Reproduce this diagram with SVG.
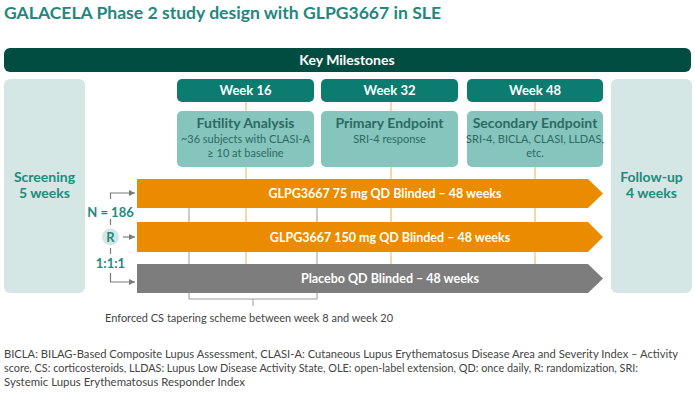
<svg xmlns="http://www.w3.org/2000/svg" width="695" height="401" viewBox="0 0 695 401">
<style>
text{font-family:Lato,"Open Sans","Liberation Sans",sans-serif}
.title{font-size:17.5px;font-weight:bold;fill:#23877d}
.hdr{font-size:14px;font-weight:bold;fill:#fff}
.wk{font-size:13px;font-weight:bold;fill:#fff}
.ct{font-size:14px;font-weight:bold;fill:#2c6a62}
.cs{font-size:11px;fill:#2c6a62}
.side{font-size:14px;font-weight:bold;fill:#1f8a7e}
.bar{font-size:12.5px;font-weight:bold;fill:#fff}
.rnd{font-size:13px;font-weight:bold;fill:#1f8a7e}
.note{font-size:11.5px;fill:#444}
.pale{fill:#d4e7e4}
.week{fill:#0d7c70}
.cbox{fill:#85c5bd}
.orange{fill:#eb8b00}
.grey{fill:#7d7d7d}
.ol{stroke:#e6b060;stroke-width:1;fill:none}
.gl{stroke:#9a9a9a;stroke-width:1;fill:none}
.al{stroke:#7a7a7a;stroke-width:1.2;fill:none}
</style>
<defs>
<marker id="ah" viewBox="0 0 6 6" refX="6" refY="3" markerWidth="6" markerHeight="6" markerUnits="userSpaceOnUse" orient="auto">
<path d="M0,0 L6,3 L0,6 z" fill="#7a7a7a"/>
</marker>
</defs>
<text class="title" x="4" y="19" textLength="437" lengthAdjust="spacingAndGlyphs">GALACELA Phase 2 study design with GLPG3667 in SLE</text>

<g id="key-milestones">
<rect x="4" y="48" width="687" height="24" rx="6" fill="#024d41"/>
<text class="hdr" x="347" y="65" text-anchor="middle">Key Milestones</text>
</g>

<g id="connectors">
<path class="ol" d="M246,102V111M246,167V179M246,208V222M246,252V264"/>
<path class="ol" d="M391,102V111M391,167V179M391,208V222M391,252V264"/>
<path class="ol" d="M535,102V111M535,167V179M535,208V222M535,252V264"/>
<path class="gl" d="M189,208V222M189,252V264M317,208V222M317,252V264"/>
<path class="gl" d="M189,293V299H317V293M253,299V306"/>
<path class="al" d="M110.5,199V193H135" marker-end="url(#ah)"/>
<path class="al" d="M110.5,219V225M110.5,248V254"/>
<path class="al" d="M123,237H135" marker-end="url(#ah)"/>
<path class="al" d="M110.5,273V282H135" marker-end="url(#ah)"/>
</g>

<g id="screening">
<rect class="pale" x="4" y="79" width="81" height="214" rx="6"/>
<text class="side" x="44.5" y="182" text-anchor="middle">Screening</text>
<text class="side" x="44.5" y="198" text-anchor="middle">5 weeks</text>
</g>

<g id="follow-up">
<rect class="pale" x="611" y="79" width="81" height="214" rx="6"/>
<text class="side" x="651.5" y="182" text-anchor="middle">Follow-up</text>
<text class="side" x="651.5" y="198" text-anchor="middle">4 weeks</text>
</g>

<g id="week16">
<rect class="week" x="177" y="79" width="137" height="23" rx="5"/>
<text class="wk" x="245.5" y="95" text-anchor="middle">Week 16</text>
</g>
<g id="week32">
<rect class="week" x="321" y="79" width="137" height="23" rx="5"/>
<text class="wk" x="389.5" y="95" text-anchor="middle">Week 32</text>
</g>
<g id="week48">
<rect class="week" x="467" y="79" width="136" height="23" rx="5"/>
<text class="wk" x="535" y="95" text-anchor="middle">Week 48</text>
</g>

<g id="futility">
<rect class="cbox" x="177" y="111" width="137" height="56" rx="5"/>
<text class="ct" x="245.5" y="128" text-anchor="middle">Futility Analysis</text>
<text class="cs" x="245.5" y="143" text-anchor="middle">~36 subjects with CLASI-A</text>
<text class="cs" x="245.5" y="157" text-anchor="middle">≥ 10 at baseline</text>
</g>
<g id="primary">
<rect class="cbox" x="321" y="111" width="137" height="56" rx="5"/>
<text class="ct" x="389.5" y="128" text-anchor="middle">Primary Endpoint</text>
<text class="cs" x="389.5" y="143" text-anchor="middle">SRI-4 response</text>
</g>
<g id="secondary">
<rect class="cbox" x="467" y="111" width="136" height="56" rx="5"/>
<text class="ct" x="535" y="128" text-anchor="middle">Secondary Endpoint</text>
<text class="cs" x="535" y="143" text-anchor="middle">SRI-4, BICLA, CLASI, LLDAS,</text>
<text class="cs" x="535" y="157" text-anchor="middle">etc.</text>
</g>

<g id="arm-75mg">
<path class="orange" d="M137,179H588L603,193.5L588,208H137z"/>
<text class="bar" x="385" y="198" text-anchor="middle">GLPG3667 75 mg QD Blinded – 48 weeks</text>
</g>
<g id="arm-150mg">
<path class="orange" d="M137,222H588L603,237L588,252H137z"/>
<text class="bar" x="390" y="241.5" text-anchor="middle">GLPG3667 150 mg QD Blinded – 48 weeks</text>
</g>
<g id="arm-placebo">
<path class="grey" d="M137,264H588L603,278.5L588,293H137z"/>
<text class="bar" x="390" y="283" text-anchor="middle">Placebo QD Blinded – 48 weeks</text>
</g>

<g id="randomization">
<text class="rnd" x="110.5" y="216.5" text-anchor="middle">N = 186</text>
<circle cx="110.5" cy="237" r="8.5" fill="#d4e7e4"/>
<text class="rnd" x="110.5" y="241.5" text-anchor="middle">R</text>
<text class="rnd" x="110.5" y="267.5" text-anchor="middle">1:1:1</text>
</g>

<text class="note" x="105" y="322" textLength="288" lengthAdjust="spacingAndGlyphs">Enforced CS tapering scheme between week 8 and week 20</text>
<text class="note" x="4" y="358" textLength="674" lengthAdjust="spacingAndGlyphs">BICLA: BILAG-Based Composite Lupus Assessment, CLASI-A: Cutaneous Lupus Erythematosus Disease Area and Severity Index – Activity</text>
<text class="note" x="4" y="372" textLength="634" lengthAdjust="spacingAndGlyphs">score, CS: corticosteroids, LLDAS: Lupus Low Disease Activity State, OLE: open-label extension, QD: once daily, R: randomization, SRI:</text>
<text class="note" x="4" y="386" textLength="241" lengthAdjust="spacingAndGlyphs">Systemic Lupus Erythematosus Responder Index</text>
</svg>
